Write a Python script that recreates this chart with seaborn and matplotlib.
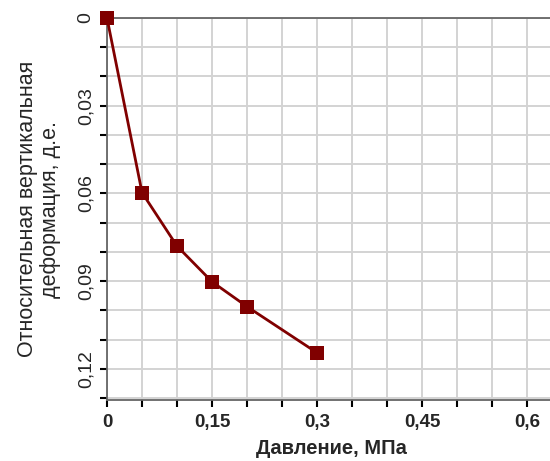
import numpy as np
import pandas as pd
import matplotlib
matplotlib.use("Agg")
import matplotlib.pyplot as plt
from matplotlib.ticker import MultipleLocator, FuncFormatter
import seaborn as sns

# data
pressure = [0.0, 0.05, 0.10, 0.15, 0.20, 0.30]
deformation = [0.0, 0.0597, 0.0780, 0.0902, 0.0987, 0.1145]

df = pd.DataFrame({"pressure": pressure, "deformation": deformation})

sns.set_style("white")
plt.rcParams["font.family"] = ["Liberation Sans", "DejaVu Sans"]

fig = plt.figure(figsize=(5.5, 4.61), dpi=100)
ax = fig.add_axes([107 / 550, 1 - 400 / 461, 1 - 107 / 550 + 0.01, (400 - 18) / 461])

sns.lineplot(data=df, x="pressure", y="deformation", ax=ax, color="#800000",
             marker="s", markersize=10, markeredgewidth=0, linewidth=2,
             clip_on=False, zorder=5)

ax.set_xlim(0, 0.64)
ax.set_ylim(0.1306, 0)

ax.xaxis.set_major_locator(MultipleLocator(0.15))
ax.xaxis.set_minor_locator(MultipleLocator(0.05))
ax.yaxis.set_major_locator(MultipleLocator(0.03))
ax.yaxis.set_minor_locator(MultipleLocator(0.01))

fmt = FuncFormatter(lambda v, p: ("%g" % round(v, 4)).replace(".", ","))
ax.xaxis.set_major_formatter(fmt)
ax.yaxis.set_major_formatter(fmt)

ax.grid(True, which="both", color="#d3d3d3", linewidth=1.4)
ax.set_axisbelow(True)

for side in ["left", "top", "bottom"]:
    ax.spines[side].set_color("#666666")
    ax.spines[side].set_linewidth(1.3)
ax.spines["right"].set_visible(False)

ax.tick_params(axis="both", which="both", direction="out", length=5, width=1.5,
               color="black", left=True, bottom=True)
ax.tick_params(axis="x", which="major", labelsize=13.5, pad=5)
ax.tick_params(axis="y", which="major", labelsize=14, pad=4)
for lab in ax.get_xticklabels():
    lab.set_fontweight("bold")
for lab in ax.get_yticklabels():
    lab.set_rotation(90)
    lab.set_va("center")

ax.set_xlabel("Давление, МПа", fontsize=14.5, fontweight="bold", labelpad=6)
ax.set_ylabel("Относительная вертикальная\nдеформация, д.е.", fontsize=15.5,
              labelpad=12, linespacing=1.1)

fig.savefig("out.png", dpi=100)
